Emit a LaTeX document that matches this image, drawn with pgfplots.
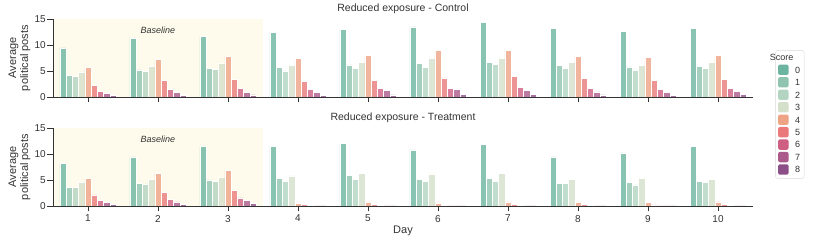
\documentclass[border=0pt]{standalone}
\usepackage{pgfplots}
\pgfplotsset{compat=1.18}
\usepackage{pgfplotstable}
\usepackage{fontspec}
\setmainfont{Liberation Sans}
\definecolor{sc0}{HTML}{6BB5A0}
\definecolor{sc1}{HTML}{8EC4B0}
\definecolor{sc2}{HTML}{B2D4C0}
\definecolor{sc3}{HTML}{D5E0CB}
\definecolor{sc4}{HTML}{EEA384}
\definecolor{sc5}{HTML}{E9797A}
\definecolor{sc6}{HTML}{CF5F82}
\definecolor{sc7}{HTML}{AB5A8C}
\definecolor{sc8}{HTML}{8C4F88}
\definecolor{basefill}{HTML}{FFFBEC}
\definecolor{axcol}{HTML}{333333}

\pgfplotstableread{
day s0 s1 s2 s3 s4 s5 s6 s7 s8
0 9.46 4.17 3.98 4.83 5.74 2.28 1.11 0.65 0.33
1 11.3 5.2 4.9 5.9 7.3 3.26 1.5 0.91 0.33
2 11.6 5.5 5.3 6.4 7.76 3.4 1.63 0.91 0.4
3 12.4 5.74 5.0 6.1 7.4 3.07 1.43 0.91 0.33
4 13.0 6.2 5.5 6.6 8.0 3.26 1.63 1.24 0.4
5 13.5 6.4 5.74 7.37 8.94 3.7 1.7 1.43 0.52
6 14.3 6.6 6.3 7.37 9.0 4.0 1.9 1.3 0.52
7 13.2 6.1 5.5 6.65 7.83 3.6 1.63 0.98 0.4
8 12.6 5.8 5.2 6.1 7.57 3.13 1.5 0.91 0.33
9 13.2 5.87 5.5 6.65 8.0 3.46 1.63 1.1 0.52
}\ctrl

\pgfplotstableread{
day s0 s1 s2 s3 s4 s5 s6 s7 s8
0 8.14 3.56 3.56 4.5 5.24 2.13 1.1 0.7 0.32
1 9.44 4.4 4.27 5.1 6.33 2.65 1.23 0.78 0.32
2 11.4 5.04 4.7 5.56 6.9 3.04 1.55 1.1 0.45
3 11.44 5.37 4.8 5.8 0.5 0.26 0.05 0.02 0
4 12.1 5.95 5.1 6.27 0.78 0.32 0.05 0.02 0
5 10.8 5.17 4.7 6.2 0.58 0.15 0.03 0.01 0
6 11.8 5.3 4.8 6.27 0.78 0.32 0.05 0.02 0
7 9.44 4.4 4.4 5.1 0.71 0.32 0.05 0.02 0
8 10.2 4.6 4.07 5.24 0.65 0.2 0.03 0.01 0
9 11.4 4.8 4.6 5.1 0.78 0.26 0.05 0.02 0
}\treat

\pgfplotsset{
  panel/.style={
    scale only axis, width=700pt, height=78pt,
    xmin=-0.5, xmax=9.5, ymin=0, ymax=15,
    axis lines*=left, axis on top,
    axis line style={axcol, line width=0.8pt},
    every tick/.style={axcol, line width=0.8pt},
    tick align=outside, major tick length=5.5pt,
    xtick={0,...,9}, ytick={0,5,10,15},
    tick label style={font=\fontsize{10}{12}\selectfont, text=axcol},
    yticklabel style={inner sep=1.5pt},
    /pgf/number format/assume math mode=true,
    ylabel={Average\\political posts},
    ylabel style={at={(axis description cs:-0.048,0.5)}, anchor=center, align=center,
      font=\fontsize{11}{12}\selectfont, text=axcol},
    title style={font=\fontsize{10.5}{12}\selectfont, text=axcol, yshift=-4pt},
  },
  bars/.style={ybar, bar shift=0pt, bar width=0.0889, draw=white, line width=0.5pt, fill opacity=0.8, forget plot},
}

\begin{document}
\begin{tikzpicture}
\begin{axis}[panel, name=top, title={Reduced exposure - Control},
  xticklabels={},
  legend style={at={(1.032,0.6)}, anchor=north west, draw=gray!30, rounded corners=2pt,
    font=\fontsize{9}{10}\selectfont, text=axcol, row sep=0.4pt, inner sep=2pt},
  legend cell align=left,
  legend image code/.code={\fill[#1] (0.05em,-0.42em) rectangle (1.1em,0.62em);},
]
\addplot[draw=none, fill=basefill, forget plot] coordinates {(-0.5,0) (-0.5,15) (2.5,15) (2.5,0)} -- cycle;
\pgfplotsinvokeforeach{0,...,8}{
  \addplot[bars, fill=sc#1] table[x expr=\thisrow{day}+(#1-4)*0.0889, y=s#1]{\ctrl};
}
\node[font=\fontsize{9}{10}\selectfont\itshape, text=axcol] at (axis cs:1,12.9) {Baseline};
\addlegendimage{empty legend}\addlegendentry{\hspace{-2.3em}Score}
\pgfplotsinvokeforeach{0,...,8}{
  \addlegendimage{fill=sc#1, draw=none}\addlegendentry{\hspace{0.5em}#1}
}
\end{axis}
\begin{axis}[panel, at={(0,-109pt)}, title={Reduced exposure - Treatment},
  xticklabels={1,2,3,4,5,6,7,8,9,10},
  xlabel={Day}, xlabel style={font=\fontsize{11}{12}\selectfont, text=axcol, yshift=3pt},
]
\addplot[draw=none, fill=basefill, forget plot] coordinates {(-0.5,0) (-0.5,15) (2.5,15) (2.5,0)} -- cycle;
\pgfplotsinvokeforeach{0,...,8}{
  \addplot[bars, fill=sc#1] table[x expr=\thisrow{day}+(#1-4)*0.0889, y=s#1]{\treat};
}
\node[font=\fontsize{9}{10}\selectfont\itshape, text=axcol] at (axis cs:1,12.9) {Baseline};
\end{axis}
\pgfresetboundingbox
\path[use as bounding box] (-53pt,-148pt) rectangle (760pt,97pt);
\end{tikzpicture}
\end{document}
